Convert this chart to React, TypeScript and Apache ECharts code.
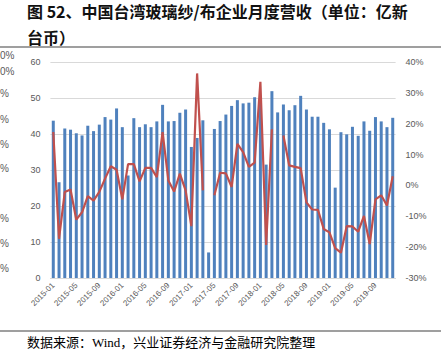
import React, { useEffect, useRef } from "react";
import * as echarts from "echarts";

const months: string[] = [
  "2015-01","2015-02","2015-03","2015-04","2015-05","2015-06","2015-07","2015-08","2015-09","2015-10","2015-11","2015-12",
  "2016-01","2016-02","2016-03","2016-04","2016-05","2016-06","2016-07","2016-08","2016-09","2016-10","2016-11","2016-12",
  "2017-01","2017-02","2017-03","2017-04","2017-05","2017-06","2017-07","2017-08","2017-09","2017-10","2017-11","2017-12",
  "2018-01","2018-02","2018-03","2018-04","2018-05","2018-06","2018-07","2018-08","2018-09","2018-10","2018-11","2018-12",
  "2019-01","2019-02","2019-03","2019-04","2019-05","2019-06","2019-07","2019-08","2019-09","2019-10","2019-11","2019-12",
];

// 月度营收（亿新台币）
const revenue: number[] = [
  43.7, 26.6, 41.5, 41.2, 40.2, 39.6, 42.3, 40.8, 42.6, 44.7, 44.0, 47.1,
  41.9, 28.5, 44.4, 41.9, 42.7, 41.9, 43.5, 48.1, 43.5, 43.6, 45.9, 46.8,
  36.4, 38.9, 43.8, 7.1, 41.4, 43.6, 45.4, 47.8, 49.4, 48.5, 48.7, 50.2,
  48.8, 31.5, 51.9, 46.0, 48.2, 46.6, 48.0, 50.6, 46.8, 44.8, 44.8, 43.1,
  41.3, 25.1, 40.5, 39.9, 42.0, 39.5, 43.5, 40.9, 44.7, 43.5, 41.9, 44.5,
];

// 同比（%）
const yoy: (number | null)[] = [
  17.3, -17.3, -2.1, -1.3, -11.1, -8.7, -3.5, -4.9, -2.1, 2.2, 6.2, 5.1,
  -4.5, 6.9, 6.9, 1.3, 5.7, 5.7, 2.7, 17.3, 1.6, -2.0, 3.8, -1.6,
  -13.2, 36.3, -1.6, null, -3.2, 4.1, 3.9, -0.5, 13.5, 10.8, 6.0, 7.4,
  33.6, -19.3, 18.2, null, 16.2, 6.5, 6.0, 5.6, -5.5, -7.8, -7.9, -14.1,
  -15.2, -20.3, -21.8, -13.2, -13.3, -15.0, -9.9, -19.0, -4.5, -3.2, -6.5, 3.0,
];

const titleLine1 = "图 52、中国台湾玻璃纱/布企业月度营收（单位：亿新";
const titleLine2 = "台币）";
const sourceText = "数据来源：Wind，兴业证券经济与金融研究院整理";

const edgeFragments: string[] = ["0%", "0%", "%", "%", "%", "%", "%", "%", "%"];
const edgeFragmentY: number[] = [55, 71, 93, 119, 144, 168, 218, 243, 268];

export default function App() {
  const ref = useRef<HTMLDivElement>(null);
  useEffect(() => {
    if (!ref.current) return;
    const chart = echarts.init(ref.current, null, { renderer: "svg" });
    const axisFont = "'Liberation Sans', 'Noto Sans', sans-serif";
    const titleFont = "'Noto Sans CJK SC', sans-serif";
    chart.setOption({
      animation: false,
      backgroundColor: "#ffffff",
      grid: { left: 50.4, right: 45.4, top: 62, bottom: 79, containLabel: false },
      xAxis: {
        type: "category",
        data: months,
        boundaryGap: true,
        axisTick: { show: false },
        axisLine: { show: true, lineStyle: { color: "#D9D9D9", width: 1 } },
        axisLabel: {
          interval: 3,
          rotate: 45,
          fontSize: 8,
          color: "#595959",
          fontFamily: axisFont,
          margin: 6,
        },
        splitLine: { show: false },
      },
      yAxis: [
        {
          type: "value",
          min: 0,
          max: 60,
          interval: 10,
          axisLine: { show: false },
          axisTick: { show: false },
          axisLabel: { fontSize: 9, color: "#595959", fontFamily: axisFont, margin: 10 },
          splitLine: { show: true, lineStyle: { color: "#D9D9D9", width: 1 } },
        },
        {
          type: "value",
          min: -30,
          max: 40,
          interval: 10,
          position: "right",
          axisLine: { show: false },
          axisTick: { show: false },
          axisLabel: { fontSize: 9, color: "#595959", fontFamily: axisFont, margin: 10, formatter: "{value}%" },
          splitLine: { show: false },
        },
      ],
      series: [
        {
          type: "bar",
          data: revenue,
          barWidth: 3,
          itemStyle: { color: "#4F81BD" },
        },
        {
          type: "line",
          yAxisIndex: 1,
          data: yoy,
          symbol: "none",
          connectNulls: false,
          lineStyle: { color: "#C0504D", width: 2.2 },
          itemStyle: { color: "#C0504D" },
        },
      ],
      graphic: [
        {
          type: "text",
          x: 27,
          y: 11,
          style: {
            text: titleLine1,
            fontSize: 16,
            fontWeight: "bold",
            fill: "#111111",
            fontFamily: titleFont,
            textVerticalAlign: "middle",
          },
        },
        {
          type: "text",
          x: 27,
          y: 37,
          style: {
            text: titleLine2,
            fontSize: 16,
            fontWeight: "bold",
            fill: "#111111",
            fontFamily: titleFont,
            textVerticalAlign: "middle",
          },
        },
        {
          type: "line",
          shape: { x1: 0, y1: 47, x2: 441, y2: 47 },
          style: { stroke: "#404040", lineWidth: 1.2 },
        },
        ...edgeFragments.map((t, i) => ({
          type: "text",
          x: 0,
          y: edgeFragmentY[i],
          style: {
            text: t,
            fontSize: 10,
            fill: "#595959",
            fontFamily: axisFont,
            textVerticalAlign: "middle",
          },
        })),
        {
          type: "line",
          shape: { x1: 0, y1: 331, x2: 441, y2: 331 },
          style: { stroke: "#404040", lineWidth: 1.2 },
        },
        {
          type: "text",
          x: 27,
          y: 342,
          style: {
            text: sourceText,
            fontSize: 13,
            fill: "#000000",
            fontFamily: "'Liberation Serif', 'Noto Sans CJK SC', serif",
            textVerticalAlign: "middle",
          },
        },
      ],
    });
    return () => chart.dispose();
  }, []);
  return (
    <div
      ref={ref}
      style={{ position: "fixed", left: 0, top: 0, width: 441, height: 357, background: "#fff" }}
    />
  );
}
